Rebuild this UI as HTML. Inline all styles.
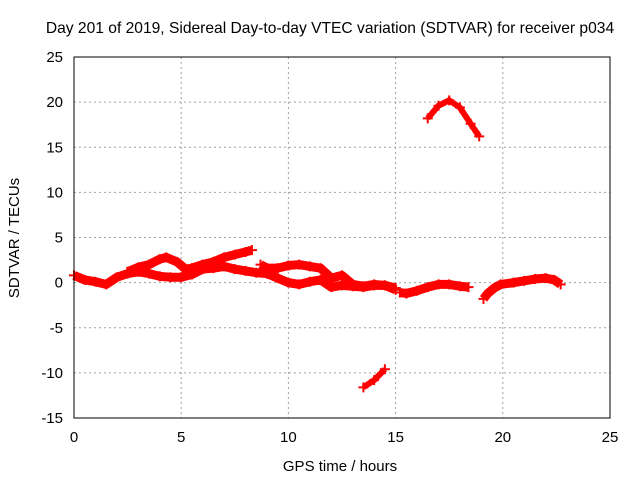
<!DOCTYPE html>
<html><head><meta charset="utf-8"><style>
body{margin:0;background:#fff;}
svg text{font-family:"Liberation Sans",sans-serif;font-size:15px;fill:#000;}
</style></head><body>
<svg width="640" height="480">
<rect width="640" height="480" fill="#fff"/>
<text x="330" y="33" text-anchor="middle" style="font-size:15.6px">Day 201 of 2019, Sidereal Day-to-day VTEC variation (SDTVAR) for receiver p034</text>
<g id="grid"></g><g id="marks"></g>
<rect x="74" y="57" width="536" height="361" fill="none" stroke="#000"/>
<g id="ticks"></g>
<text x="340" y="471" text-anchor="middle">GPS time / hours</text>
<text transform="translate(19,238) rotate(-90)" text-anchor="middle">SDTVAR / TECUs</text>
</svg>
<script>
const xTicks=[0,5,10,15,20,25];
const yTicks=[-15,-10,-5,0,5,10,15,20,25];
const s1h=[0,0.5,1,1.5,2,2.5,3,3.5,4,4.5,5,5.5,6,6.5,7,7.5,8,8.5,9,9.5,10,10.5,11,11.5,12,12.5,13,13.5,14,14.5,15];
const s1v=[0.8,0.3,0.1,-0.2,0.6,1.0,1.2,1.0,0.7,0.6,0.6,0.9,1.5,1.6,1.8,1.5,1.3,1.1,1.0,0.5,0.0,-0.2,0.1,0.3,-0.5,-0.3,-0.4,-0.5,-0.3,-0.3,-0.8];
const s2h=[2.5,3,3.5,4,4.3,4.8,5.2,5.5,6,6.5,7,7.5,8,8.3];
const s2v=[1.2,1.7,2.0,2.6,2.8,2.3,1.5,1.6,2.0,2.3,2.8,3.1,3.4,3.6];
const s3h=[8.7,9,9.5,10,10.5,11,11.5,12,12.5,13,13.5,14,14.5,15];
const s3v=[2.0,1.6,1.6,1.9,2.0,1.8,1.6,0.5,0.8,-0.2,-0.4,-0.2,-0.3,-0.6];
const s4h=[15.2,15.5,16,16.5,17,17.5,18,18.4];
const s4v=[-1.1,-1.2,-0.9,-0.5,-0.2,-0.2,-0.4,-0.5];
const s5h=[19.1,19.3,19.6,19.9,20.5,21,21.5,22,22.4,22.7];
const s5v=[-1.8,-1.2,-0.6,-0.2,0.0,0.2,0.4,0.5,0.3,-0.2];
const s6h=[13.5,14,14.5];
const s6v=[-11.6,-10.8,-9.6];
const s7h=[16.5,17,17.5,18,18.5,18.9];
const s7v=[18.2,19.6,20.2,19.4,17.6,16.2];
const series=[[s1h,s1v],[s2h,s2v],[s3h,s3v],[s4h,s4v],[s5h,s5v],[s6h,s6v],[s7h,s7v]];
const X=h=>74+h*536/25, Y=v=>418-(v+15)*361/40;
const NS='http://www.w3.org/2000/svg';
const mk=(t,a,p)=>{const e=document.createElementNS(NS,t);for(const k in a)e.setAttribute(k,a[k]);p.appendChild(e);return e;};
const grid=document.getElementById('grid'),ticks=document.getElementById('ticks'),marks=document.getElementById('marks');
xTicks.forEach(t=>{const x=X(t);
 if(t>0&&t<25){const l=mk('line',{x1:x,x2:x,y1:57,y2:418,stroke:'#a0a0a0','stroke-dasharray':'2,3'},grid);
 
 }
 const tx=mk('text',{x:x,y:442,'text-anchor':'middle'},ticks);tx.textContent=t;
 
 
});
yTicks.forEach(t=>{const y=Y(t);
 if(t>-15&&t<25){const l=mk('line',{x1:74,x2:610,y1:y,y2:y,stroke:'#a0a0a0','stroke-dasharray':'2,3'},grid);
 
 }
 const tx=mk('text',{x:63,y:y+5,'text-anchor':'end'},ticks);tx.textContent=t;
 
 
});
series.forEach((s,i)=>{
 const pts=s[0].map((h,j)=>X(h)+','+Y(s[1][j])).join(' ');
 const w=i>=5?6:9;
 const pl=mk('polyline',{points:pts,fill:'none',stroke:'#f00','stroke-width':w,'stroke-linejoin':'round','stroke-linecap':'butt'},marks);
 
 
 s[0].forEach((h,j)=>{const x=X(h),y=Y(s[1][j]);
  const p=mk('path',{d:`M${x-5},${y}H${x+5}M${x},${y-5}V${y+5}`,stroke:'#f00','stroke-width':2},marks);
  
  
 });
});
</script>
</body></html>
